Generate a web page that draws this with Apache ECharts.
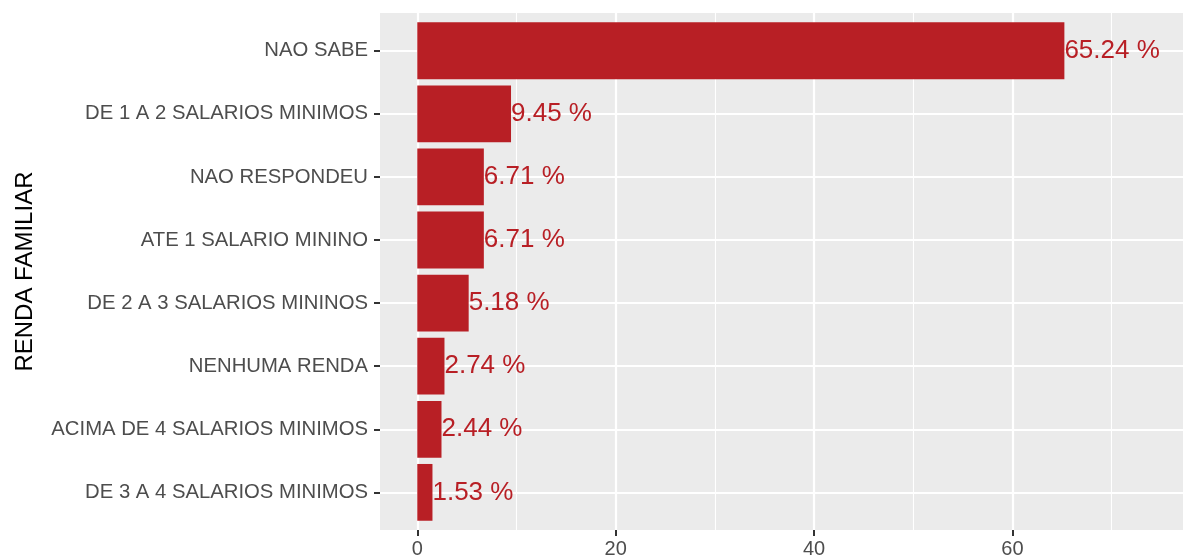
<!DOCTYPE html>
<html>
<head>
<meta charset="utf-8">
<script src="https://cdn.jsdelivr.net/npm/echarts@6/dist/echarts.min.js"></script>
<style>
html, body { margin: 0; padding: 0; background: #fff; }
#chart { width: 1183px; height: 560px; }
</style>
</head>
<body>
<div id="chart"></div>
<script>
var categories = [
    'NAO SABE',
    'DE 1 A 2 SALARIOS MINIMOS',
    'NAO RESPONDEU',
    'ATE 1 SALARIO MININO',
    'DE 2 A 3 SALARIOS MININOS',
    'NENHUMA RENDA',
    'ACIMA DE 4 SALARIOS MINIMOS',
    'DE 3 A 4 SALARIOS MINIMOS'
];
var percents = [65.24, 9.45, 6.71, 6.71, 5.18, 2.74, 2.44, 1.53];
var majorTicks = [0, 20, 40, 60];
var minorTicks = [10, 30, 50, 70];

var xMin = -3.76;
var xMax = 77.2;
var barColor = '#B81F25';
var font = 'Liberation Sans, Arial, sans-serif';

var chart = echarts.init(document.getElementById('chart'));

var option = {
    backgroundColor: '#fff',
    animation: false,
    grid: [
        // panel
        { left: 380, right: 0, top: 13, height: 517, show: true, backgroundColor: '#EBEBEB', borderWidth: 0 },
        // bars
        { left: 380, right: 0, top: 19.2, height: 504.7 }
    ],
    xAxis: [
        {
            type: 'value', gridIndex: 0, min: xMin, max: xMax,
            axisLine: { show: false },
            axisTick: { show: true, length: 6, customValues: majorTicks, lineStyle: { color: '#333', width: 2 } },
            axisLabel: { customValues: majorTicks, color: '#4D4D4D', fontSize: 20, fontFamily: font, margin: 9 },
            splitLine: { show: true, lineStyle: { color: '#fff', width: 2.2 } }
        },
        {
            type: 'value', gridIndex: 0, min: xMin, max: xMax, position: 'bottom',
            axisLine: { show: false },
            axisTick: { show: false, customValues: minorTicks },
            axisLabel: { show: false, customValues: minorTicks },
            splitLine: { show: true, lineStyle: { color: '#fff', width: 1.1 } }
        },
        {
            type: 'value', gridIndex: 1, min: xMin, max: xMax,
            show: false,
            splitLine: { show: false }
        }
    ],
    yAxis: [
        { type: 'value', gridIndex: 0, show: false, splitLine: { show: false } },
        {
            type: 'category', gridIndex: 1, data: categories, inverse: true,
            name: 'RENDA FAMILIAR', nameLocation: 'middle', nameGap: 343, nameRotate: 90,
            nameTextStyle: { color: '#000', fontSize: 24, fontFamily: font },
            axisLine: { show: false, onZero: false },
            axisTick: { show: true, alignWithLabel: true, length: 6, lineStyle: { color: '#333', width: 2 } },
            axisLabel: { color: '#4D4D4D', fontSize: 20.3, fontFamily: font, margin: 12 },
            splitLine: { show: true, alignWithLabel: true, lineStyle: { color: '#fff', width: 2.2 } }
        }
    ],
    series: [
        {
            type: 'bar',
            xAxisIndex: 2,
            yAxisIndex: 1,
            data: percents,
            barWidth: '90%',
            itemStyle: { color: barColor },
            label: {
                show: true,
                position: 'right',
                distance: 0,
                color: barColor,
                fontSize: 26,
                fontFamily: font,
                formatter: function (p) { return p.value + ' %'; }
            }
        }
    ]
};

chart.setOption(option);
</script>
</body>
</html>
